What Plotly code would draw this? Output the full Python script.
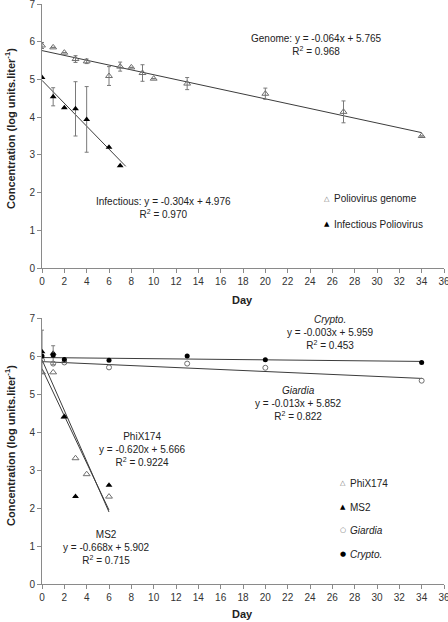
import plotly.graph_objects as go

# ---------------- data (top panel: poliovirus) ----------------
genome_days = [0, 1, 2, 3, 4, 6, 7, 8, 9, 10, 13, 20, 27, 34]
genome_vals = [5.90, 5.85, 5.71, 5.54, 5.48, 5.09, 5.34, 5.32, 5.17, 5.02, 4.89, 4.62, 4.14, 3.50]
genome_err = [0.08, 0, 0, 0.09, 0.06, 0.25, 0.12, 0, 0.22, 0, 0.16, 0.15, 0.29, 0]

infect_days = [0, 1, 2, 3, 4, 6, 7]
infect_vals = [5.05, 4.54, 4.25, 4.22, 3.94, 3.20, 2.71]
infect_err = [0, 0.24, 0, 0.72, 0.87, 0, 0]

# ---------------- data (bottom panel) ----------------
phix_days = [0, 1, 2, 3, 4, 6]
phix_vals = [5.57, 5.57, 4.40, 3.31, 2.89, 2.30]

ms2_days = [0, 1, 2, 3, 6]
ms2_vals = [6.11, 6.07, 4.40, 2.30, 2.60]
ms2_err = [0.57, 0, 0, 0, 0]

giardia_days = [0, 1, 2, 6, 13, 20, 34]
giardia_vals = [5.89, 5.80, 5.83, 5.70, 5.80, 5.69, 5.35]

crypto_days = [0, 1, 2, 6, 13, 20, 34]
crypto_vals = [6.00, 6.02, 5.91, 5.89, 6.00, 5.90, 5.83]
crypto_err = [0, 0.25, 0, 0, 0, 0, 0]

# trend lines: (slope, intercept, x start, x end)
trend_genome = (-0.064, 5.765, 0, 34)
trend_infect = (-0.304, 4.976, 0, 7.5)
trend_phix = (-0.620, 5.666, 0, 6)
trend_ms2 = (-0.668, 5.902, 0, 6)
trend_giardia = (-0.013, 5.852, 0, 34)
trend_crypto = (-0.003, 5.959, 0, 34)

x_ticks = list(range(0, 37, 2))
y_ticks = list(range(0, 8))

W, H = 448, 622
ML, MR, MT, MB = 42, 4, 4, 38
PW = W - ML - MR
PH = H - MT - MB

FONT = "Liberation Sans, Arial, sans-serif"
AXC = "#8a8a8a"
TXT = "#222222"
LINEC = "#3c3c3c"


def px(xp):
    return (xp - ML) / PW


def py(yp):
    return (H - MB - yp) / PH


fig = go.Figure()


def add_trend(tr, xa, ya):
    m, b, x0, x1 = tr
    fig.add_trace(go.Scatter(x=[x0, x1], y=[m * x0 + b, m * x1 + b], mode="lines",
                             line=dict(color=LINEC, width=1), xaxis=xa, yaxis=ya,
                             showlegend=False, hoverinfo="skip"))


def eb(arr):
    return dict(type="data", array=arr, visible=True, color="#7a7a7a", thickness=1, width=2)


# top panel
add_trend(trend_genome, "x", "y")
add_trend(trend_infect, "x", "y")
fig.add_trace(go.Scatter(x=genome_days, y=genome_vals, mode="markers", error_y=eb(genome_err),
                         marker=dict(symbol="triangle-up-open", size=6, color="#6e6e6e", line=dict(width=1)),
                         xaxis="x", yaxis="y", showlegend=False))
fig.add_trace(go.Scatter(x=infect_days, y=infect_vals, mode="markers", error_y=eb(infect_err),
                         marker=dict(symbol="triangle-up", size=6, color="black"),
                         xaxis="x", yaxis="y", showlegend=False))

# bottom panel
add_trend(trend_crypto, "x2", "y2")
add_trend(trend_giardia, "x2", "y2")
add_trend(trend_phix, "x2", "y2")
add_trend(trend_ms2, "x2", "y2")
fig.add_trace(go.Scatter(x=phix_days, y=phix_vals, mode="markers",
                         marker=dict(symbol="triangle-up-open", size=6, color="#6e6e6e", line=dict(width=1)),
                         xaxis="x2", yaxis="y2", showlegend=False))
fig.add_trace(go.Scatter(x=ms2_days, y=ms2_vals, mode="markers", error_y=eb(ms2_err),
                         marker=dict(symbol="triangle-up", size=6, color="black"),
                         xaxis="x2", yaxis="y2", showlegend=False))
fig.add_trace(go.Scatter(x=giardia_days, y=giardia_vals, mode="markers",
                         marker=dict(symbol="circle-open", size=5, color="#6e6e6e", line=dict(width=1)),
                         xaxis="x2", yaxis="y2", showlegend=False))
fig.add_trace(go.Scatter(x=crypto_days, y=crypto_vals, mode="markers", error_y=eb(crypto_err),
                         marker=dict(symbol="circle", size=5, color="black"),
                         xaxis="x2", yaxis="y2", showlegend=False))

axis_common = dict(showline=True, linecolor=AXC, linewidth=1, ticks="outside", ticklen=4,
                   tickcolor=AXC, tickwidth=1, showgrid=False, zeroline=False, automargin=False,
                   ticklabeloverflow="allow",
                   tickfont=dict(family=FONT, size=10, color="#333333"))

top_dom = [py(268), py(4)]
bot_dom = [py(584), py(318)]

fig.update_layout(
    width=W, height=H,
    margin=dict(l=ML, r=MR, t=MT, b=MB, autoexpand=False),
    paper_bgcolor="white", plot_bgcolor="white",
    showlegend=False,
    font=dict(family=FONT, size=10, color=TXT),
    xaxis=dict(domain=[0, 1], range=[0, 36], tickvals=x_ticks, anchor="y", **axis_common),
    yaxis=dict(domain=top_dom, range=[0, 7], tickvals=y_ticks, anchor="x", **axis_common),
    xaxis2=dict(domain=[0, 1], range=[0, 36], tickvals=x_ticks, anchor="y2", **axis_common),
    yaxis2=dict(domain=bot_dom, range=[0, 7], tickvals=y_ticks, anchor="x2", **axis_common),
)

ann = []
f10 = dict(family=FONT, size=10, color=TXT)


def text_ann(txt, xd, yd, xref, yref):
    ann.append(dict(text=txt, x=xd, y=yd, xref=xref, yref=yref, showarrow=False,
                    xanchor="center", yanchor="middle", align="center", font=f10))


# equation labels (data coordinates)
text_ann("Genome: y = -0.064x + 5.765<br>R<sup>2</sup> = 0.968", 24.6, 5.90, "x", "y")
text_ann("Infectious: y = -0.304x + 4.976<br>R<sup>2</sup> = 0.970", 10.9, 1.60, "x", "y")
text_ann("<i>Crypto.</i><br>y = -0.003x + 5.959<br>R<sup>2</sup> = 0.453", 25.85, 6.63, "x2", "y2")
text_ann("<i>Giardia</i><br>y = -0.013x + 5.852<br>R<sup>2</sup> = 0.822", 23.0, 4.76, "x2", "y2")
text_ann("PhiX174<br>y = -0.620x + 5.666<br>R<sup>2</sup> = 0.9224", 9.0, 3.55, "x2", "y2")
text_ann("MS2<br>y = -0.668x + 5.902<br>R<sup>2</sup> = 0.715", 5.8, 0.95, "x2", "y2")

# custom legends
legend_items = [
    ("△", "#6e6e6e", "Poliovirus genome", 327, 199),
    ("▲", "black", "Infectious Poliovirus", 327, 224),
    ("△", "#6e6e6e", "PhiX174", 343, 483),
    ("▲", "black", "MS2", 343, 507),
    ("○", "#6e6e6e", "<i>Giardia</i>", 343, 530),
    ("●", "black", "<i>Crypto.</i>", 343, 554),
]
for glyph, col, label, xp, yp in legend_items:
    ann.append(dict(text=glyph, x=px(xp), y=py(yp), xref="paper", yref="paper", showarrow=False,
                    xanchor="center", yanchor="middle",
                    font=dict(family="DejaVu Sans", size=7, color=col)))
    ann.append(dict(text=label, x=px(xp + 5), y=py(yp), xref="paper", yref="paper", showarrow=False,
                    xanchor="left", yanchor="middle", font=f10))

# axis titles
ytitle = "<b>Concentration (log units.liter<sup>-1</sup>)</b>"
for yc in (129, 446):
    ann.append(dict(text=ytitle, x=px(10), y=py(yc), xref="paper", yref="paper", showarrow=False,
                    textangle=-90, xanchor="center", yanchor="middle",
                    font=dict(family=FONT, size=11, color=TXT)))
for yc in (300, 614):
    ann.append(dict(text="<b>Day</b>", x=px(242.5), y=py(yc), xref="paper", yref="paper",
                    showarrow=False, xanchor="center", yanchor="middle",
                    font=dict(family=FONT, size=11, color=TXT)))

fig.update_layout(annotations=ann)
fig.write_html("out.html", config={"displayModeBar": False},
               post_script="document.body.style.margin='0px';document.body.style.overflow='hidden';")
